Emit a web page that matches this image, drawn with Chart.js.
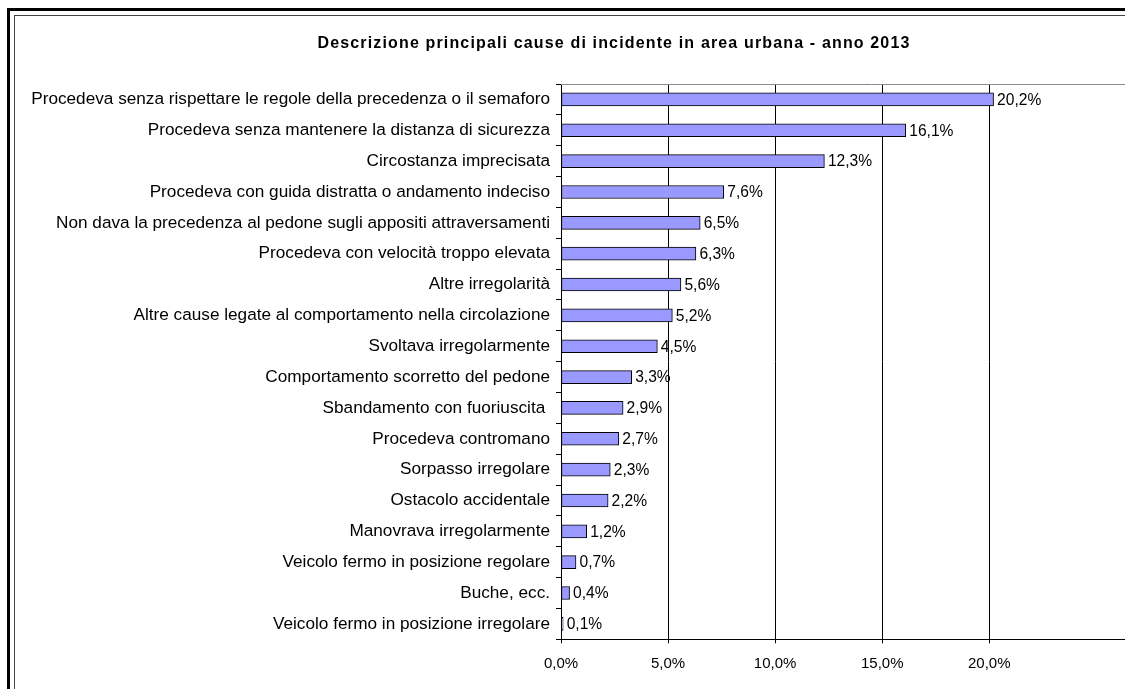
<!DOCTYPE html>
<html lang="it">
<head>
<meta charset="utf-8">
<title>Cause di incidente in area urbana - 2013</title>
<script src="https://cdn.jsdelivr.net/npm/chart.js@4"></script>
<style>
    html, body { margin: 0; padding: 0; background: #fff; overflow: hidden; }
    #wrap { position: relative; width: 1228px; height: 689px; }
</style>
</head>
<body>
<div id="wrap"><canvas id="causeChart"></canvas></div>
<script>
// Cause di incidente, ordinate per percentuale
const categories = [
    'Procedeva senza rispettare le regole della precedenza o il semaforo',
    'Procedeva senza mantenere la distanza di sicurezza',
    'Circostanza imprecisata',
    'Procedeva con guida distratta o andamento indeciso',
    'Non dava la precedenza al pedone sugli appositi attraversamenti',
    'Procedeva con velocità troppo elevata',
    'Altre irregolarità',
    'Altre cause legate al comportamento nella circolazione',
    'Svoltava irregolarmente',
    'Comportamento scorretto del pedone',
    'Sbandamento con fuoriuscita ',
    'Procedeva contromano',
    'Sorpasso irregolare',
    'Ostacolo accidentale',
    'Manovrava irregolarmente',
    'Veicolo fermo in posizione regolare',
    'Buche, ecc.',
    'Veicolo fermo in posizione irregolare'
];
const percentages = [20.2, 16.1, 12.3, 7.6, 6.5, 6.3, 5.6, 5.2, 4.5, 3.3, 2.9, 2.7, 2.3, 2.2, 1.2, 0.7, 0.4, 0.1];
const xTicks = [0, 5, 10, 15, 20];
const chartTitle = 'Descrizione principali cause di incidente in area urbana - anno 2013';

const FONT = '"Liberation Sans", Arial, sans-serif';

function fmtPct(v, decimals) {
    return v.toFixed(decimals).replace('.', ',') + '%';
}

// cornice doppia, titolo e bordo superiore dell'area del tracciato
const framePlugin = {
    id: 'frame',
    beforeDraw(chart) {
        const c = chart.ctx;
        c.save();
        c.fillStyle = '#000';
        c.fillRect(7, 8, chart.width, 3);
        c.fillRect(7, 8, 3, chart.height);
        c.fillStyle = '#444';
        c.fillRect(14, 15, chart.width, 1);
        c.fillRect(14, 15, 1, chart.height);

        c.font = 'bold 16px ' + FONT;
        c.letterSpacing = '1.15px';
        c.fillStyle = '#000';
        c.textAlign = 'center';
        c.textBaseline = 'middle';
        c.fillText(chartTitle, chart.width / 2, 44);
        c.restore();
    },
    afterDraw(chart) {
        const a = chart.chartArea;
        const c = chart.ctx;
        c.save();
        c.strokeStyle = '#8c8c8c';
        c.lineWidth = 1;
        c.beginPath();
        c.moveTo(a.left, Math.round(a.top) + 0.5);
        c.lineTo(a.right, Math.round(a.top) + 0.5);
        c.stroke();
        c.restore();
    }
};

// etichette con il valore a destra delle barre
const valueLabels = {
    id: 'valueLabels',
    afterDatasetsDraw(chart) {
        const c = chart.ctx;
        const meta = chart.getDatasetMeta(0);
        c.save();
        c.font = '15.6px ' + FONT;
        c.fillStyle = '#000';
        c.textAlign = 'left';
        c.textBaseline = 'middle';
        meta.data.forEach((bar, i) => {
            c.fillText(fmtPct(percentages[i], 1), bar.x + 3.5, bar.y + 1);
        });
        c.restore();
    }
};

new Chart(document.getElementById('causeChart'), {
    type: 'bar',
    data: {
        labels: categories,
        datasets: [{
            data: percentages,
            backgroundColor: '#9999ff',
            borderColor: '#000',
            borderWidth: 1,
            borderSkipped: false,
            barThickness: 13
        }]
    },
    options: {
        indexAxis: 'y',
        responsive: true,
        maintainAspectRatio: false,
        animation: false,
        layout: { padding: { left: 0, right: 46, top: 84, bottom: 0 } },
        plugins: {
            legend: { display: false },
            tooltip: { enabled: false },
            title: { display: false }
        },
        scales: {
            x: {
                min: 0,
                max: 29,
                afterBuildTicks(scale) {
                    scale.ticks = xTicks.map(v => ({ value: v }));
                },
                afterFit(scale) { scale.height = 49.7; },
                grid: {
                    color: '#000',
                    lineWidth: 1,
                    tickLength: 4,
                    tickColor: '#000'
                },
                border: { color: '#000', width: 1 },
                ticks: {
                    color: '#000',
                    font: { family: FONT, size: 15 },
                    padding: 11.7,
                    callback: v => fmtPct(v, 1)
                }
            },
            y: {
                afterFit(scale) { scale.width = 561; },
                grid: {
                    drawOnChartArea: false,
                    offset: true,
                    tickLength: 5,
                    tickColor: '#000'
                },
                border: { color: '#000', width: 1 },
                ticks: {
                    color: '#000',
                    font: { family: FONT, size: 17.2 },
                    padding: 6,
                    autoSkip: false
                }
            }
        }
    },
    plugins: [framePlugin, valueLabels]
});
</script>
</body>
</html>
